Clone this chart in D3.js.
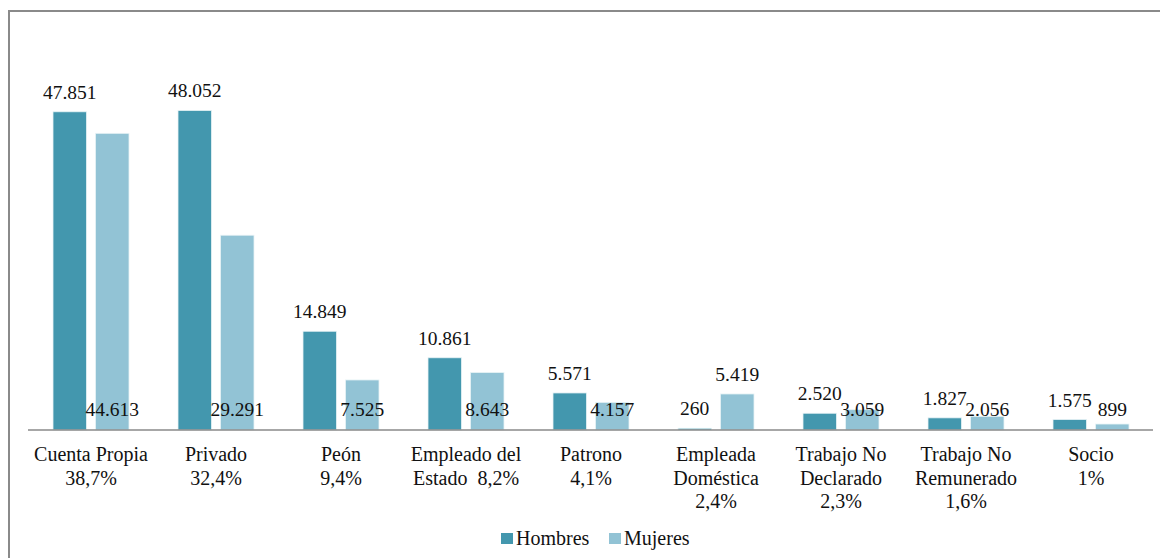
<!DOCTYPE html>
<html>
<head>
<meta charset="utf-8">
<script src="https://cdn.jsdelivr.net/npm/d3@7"></script>
</head>
<body style="margin:0; background:#fff">
<div id="chart"></div>
<script>
// categorias (con salto de linea) y valores
var categories = ["Cuenta Propia\n38,7%", "Privado\n32,4%", "Peón\n9,4%",
  "Empleado del\nEstado  8,2%", "Patrono\n4,1%", "Empleada\nDoméstica\n2,4%",
  "Trabajo No\nDeclarado\n2,3%", "Trabajo No\nRemunerado\n1,6%", "Socio\n1%"];
var hombres = [47851, 48052, 14849, 10861, 5571, 260, 2520, 1827, 1575];
var mujeres = [44613, 29291, 7525, 8643, 4157, 5419, 3059, 2056, 899];
var seriesNames = ["Hombres", "Mujeres"];
var colors = ["#4397AE", "#92C3D5"];

var W = 1160, H = 558;
var svg = d3.select("#chart").append("svg")
  .attr("width", W)
  .attr("height", H);

function txt(sel, size) {
  return sel.style("font-family", "'Liberation Serif'")
    .style("font-size", (size || 19.5) + "px")
    .style("fill", "#111");
}

// marco
svg.append("rect")
  .attr("x", 9).attr("y", 11)
  .attr("width", 1300).attr("height", 700)
  .attr("fill", "none")
  .attr("stroke", "#8a8a8a")
  .attr("stroke-width", 2);

var x0 = d3.scaleBand()
  .domain(categories)
  .range([28.5, 1153.5])
  .paddingInner(0.392)
  .paddingOuter(0.196);

var x1 = d3.scaleBand()
  .domain(seriesNames)
  .range([0, x0.bandwidth()])
  .paddingInner(0.212);

var y = d3.scaleLinear()
  .domain([0, 60000])
  .range([430, 31]);

var fmt = function(v) { return d3.format(",")(v).replace(/,/g, "."); };

var rows = categories.map(function(c, i) {
  return {cat: c, vals: [hombres[i], mujeres[i]]};
});

var g = svg.selectAll("g.grp")
  .data(rows)
  .join("g")
  .attr("class", "grp")
  .attr("transform", function(d) { return "translate(" + x0(d.cat) + ",0)"; });

g.selectAll("rect")
  .data(function(d) { return d.vals.map(function(v, j) { return {s: seriesNames[j], v: v, j: j}; }); })
  .join("rect")
  .attr("x", function(d) { return x1(d.s); })
  .attr("y", function(d) { return y(d.v); })
  .attr("width", x1.bandwidth())
  .attr("height", function(d) { return y(0) - y(d.v); })
  .attr("fill", function(d) { return colors[d.j]; })
  .attr("stroke", "#e8f3f6")
  .attr("stroke-width", 0.8);

// eje
svg.append("line")
  .attr("x1", 28).attr("x2", 1153)
  .attr("y1", y(0)).attr("y2", y(0))
  .attr("stroke", "#8a8a8a")
  .attr("stroke-width", 1.5);

// etiquetas hombres: encima de la barra
g.append("text")
  .call(txt)
  .attr("x", function(d) { return x1("Hombres") + x1.bandwidth() / 2; })
  .attr("y", function(d) { return y(d.vals[0]) - 13; })
  .attr("text-anchor", "middle")
  .text(function(d) { return fmt(d.vals[0]); });

// etiquetas mujeres: en la base, salvo Empleada Domestica (encima)
var mujAbove = [categories[5]];
g.append("text")
  .call(txt)
  .attr("x", function(d) { return x1("Mujeres") + x1.bandwidth() / 2; })
  .attr("y", function(d) {
    return mujAbove.indexOf(d.cat) >= 0 ? y(d.vals[1]) - 13 : y(0) - 14;
  })
  .attr("text-anchor", "middle")
  .text(function(d) { return fmt(d.vals[1]); });

// categorias
g.append("text")
  .call(txt, 20)
  .attr("text-anchor", "middle")
  .style("white-space", "pre")
  .selectAll("tspan")
  .data(function(d) { return d.cat.split("\n"); })
  .join("tspan")
  .attr("x", x0.bandwidth() / 2)
  .attr("y", function(d, i) { return 461 + i * 23.5; })
  .text(function(d) { return d; });

// leyenda
var legX = [501, 609];
var leg = svg.selectAll("g.leg")
  .data(seriesNames)
  .join("g")
  .attr("class", "leg")
  .attr("transform", function(d, i) { return "translate(" + legX[i] + ",533)"; });
leg.append("rect")
  .attr("width", 12).attr("height", 11)
  .attr("fill", function(d, i) { return colors[i]; });
leg.append("text")
  .call(txt, 20)
  .attr("x", 15).attr("y", 12)
  .text(function(d) { return d; });
</script>
</body>
</html>
